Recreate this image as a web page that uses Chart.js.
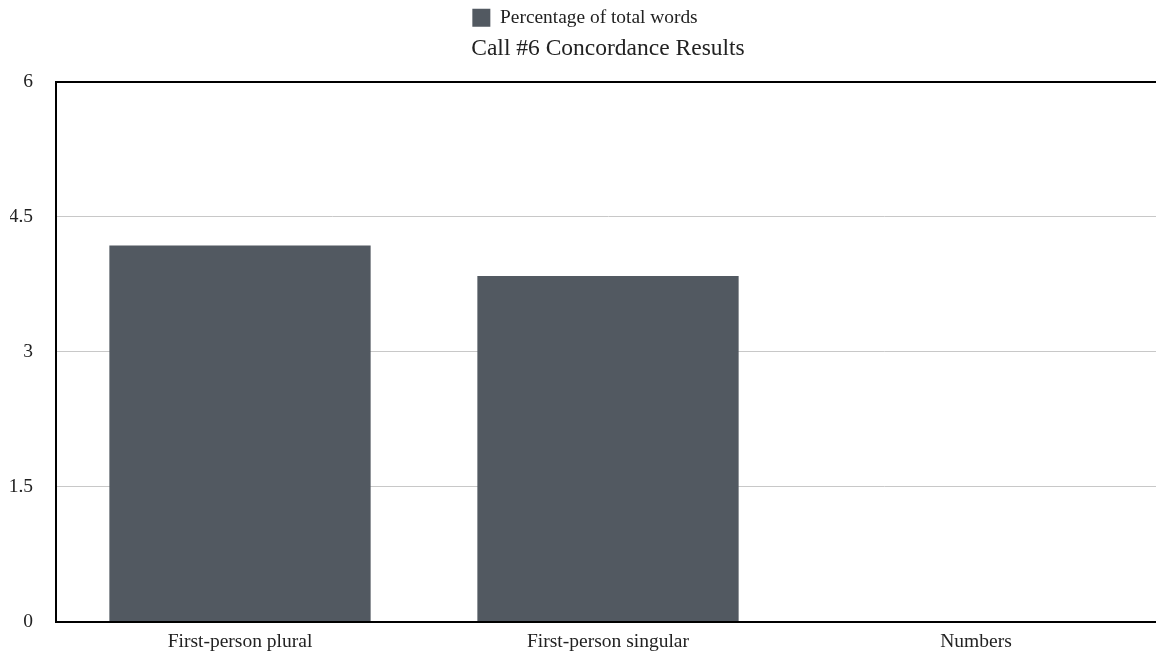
<!DOCTYPE html>
<html>
<head>
<meta charset="utf-8">
<script src="https://cdn.jsdelivr.net/npm/chart.js@4/dist/chart.umd.min.js"></script>
<style>
  html, body { margin: 0; padding: 0; background: #fff; overflow: hidden; }
  #wrap { width: 1160px; height: 663px; }
</style>
</head>
<body>
<div id="wrap"><canvas id="c" width="1160" height="663"></canvas></div>
<script>
const categories = ['First-person plural', 'First-person singular', 'Numbers'];
const seriesLabel = 'Percentage of total words';
const percentValues = [4.18, 3.84, 0];
const yTicks = [0, 1.5, 3, 4.5, 6];
const chartTitle = 'Call #6 Concordance Results';

const serif = '"Liberation Serif", "Times New Roman", serif';

new Chart(document.getElementById('c'), {
  type: 'bar',
  data: {
    labels: categories,
    datasets: [{
      label: seriesLabel,
      data: percentValues,
      backgroundColor: '#525961',
      borderWidth: 0,
      categoryPercentage: 1,
      barPercentage: 0.71
    }]
  },
  options: {
    responsive: false,
    animation: false,
    layout: { padding: { left: 10, right: 0, top: 0, bottom: 0 } },
    plugins: {
      legend: {
        position: 'top',
        weight: 2000,
        labels: {
          color: '#222',
          font: { family: serif, size: 19.4 },
          boxWidth: 18,
          boxHeight: 18,
          padding: 8
        }
      },
      title: {
        display: true,
        text: chartTitle,
        position: 'top',
        weight: 1000,
        fullSize: false,
        color: '#222',
        font: { family: serif, size: 23.5, weight: 'normal' },
        padding: { top: -3, bottom: 19 }
      },
      tooltip: { enabled: false }
    },
    scales: {
      x: {
        grid: { display: false, drawTicks: false },
        border: { color: '#000', width: 2 },
        ticks: { color: '#222', font: { family: serif, size: 19.5 }, padding: 9 }
      },
      y: {
        min: 0,
        max: 6,
        afterBuildTicks: (axis) => { axis.ticks = yTicks.map(v => ({ value: v })); },
        afterFit: (axis) => { axis.width = 46; },
        grid: {
          drawTicks: false,
          color: (ctx) => ctx.tick && ctx.tick.value === 6 ? '#000' : '#c8c8c8',
          lineWidth: (ctx) => ctx.tick && ctx.tick.value === 6 ? 2 : 1
        },
        border: { color: '#000', width: 2 },
        ticks: {
          color: '#222',
          font: { family: serif, size: 19.5 },
          padding: 23
        }
      }
    }
  }
});
</script>
</body>
</html>
